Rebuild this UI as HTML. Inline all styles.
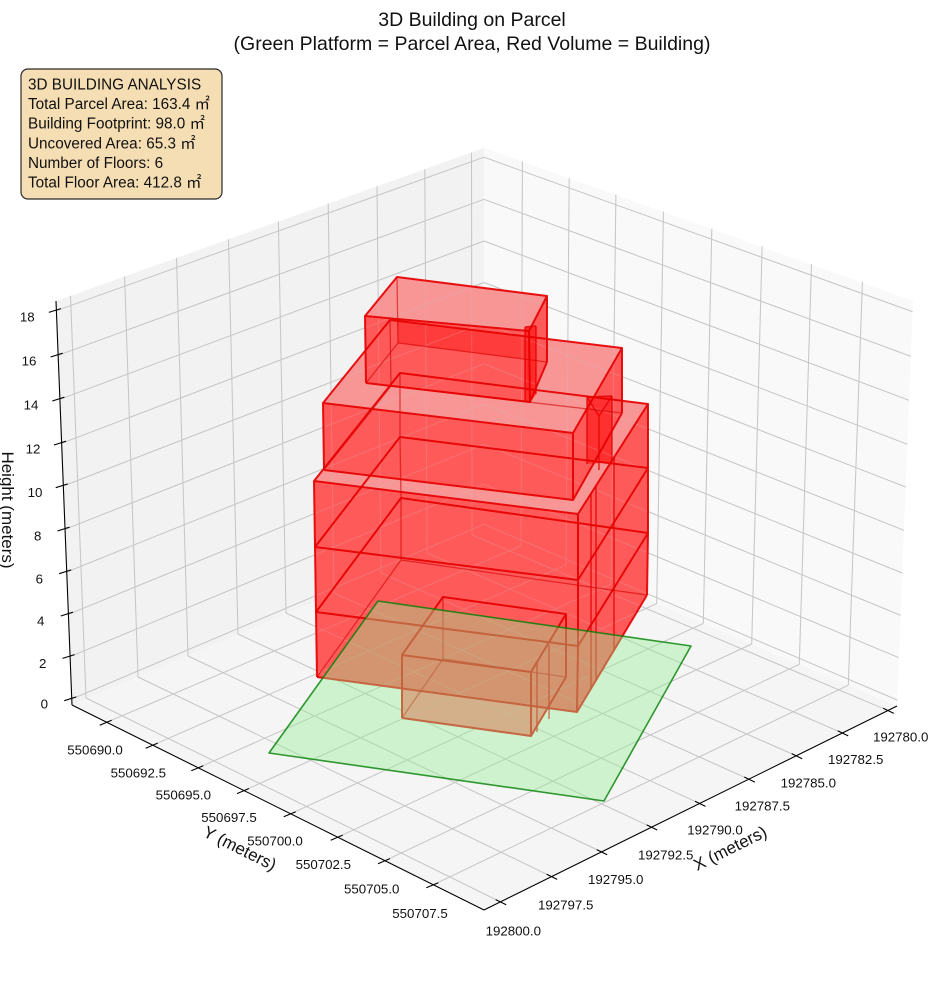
<!DOCTYPE html>
<html><head><meta charset="utf-8"><style>
html,body{margin:0;padding:0;background:#fff;}
svg{display:block;}
text{font-family:"Liberation Sans","Noto Sans CJK JP",sans-serif;fill:#111;}
</style></head><body>
<svg width="944" height="992" viewBox="0 0 944 992" xmlns="http://www.w3.org/2000/svg">
<rect width="944" height="992" fill="#fff"/>
<!-- panes -->
<polygon points="72,705 56,301 484,148 484,530" fill="#f2f2f2"/>
<polygon points="484,530 484,148 913,301 897,706" fill="#f9f9f9"/>
<polygon points="72,705 484,910 897,706 484,530" fill="#f5f5f5"/>
<!-- grid -->
<g id="grid" stroke="#c6c6c6" stroke-width="1" fill="none">
<path d="M500.7,902L86,698 M551.7,876.7L138,677 M601.7,852L188,656 M651.7,827.3L238,634 M700,803.7L286,613 M749.3,779.4L334,593 M796.7,756L381,573 M842.7,733.2L427,553 M888.3,710.7L472,535"/>
<path d="M106.7,722.3L521,545.8 M152.7,745.2L566,564.9 M198.3,767.8L611,584.1 M244,790.6L656.7,603.6 M290.7,813.8L703.3,623.4 M337.7,837.2L751.7,644 M385,860.7L799.3,664.3 M433.3,884.8L848.3,685.2"/>
<path d="M86,698L70.5,295.8 M138,677L124.6,276.5 M188,656L176.5,258 M238,634L228.5,239.4 M286,613L278.4,221.6 M334,593L328.2,203.8 M381,573L377,186.4 M427,553L424.8,169.3 M472,535L471.5,152.7"/>
<path d="M521,545.8L522.4,161.6 M566,564.9L569.2,178.2 M611,584.1L615.9,194.7 M656.7,603.6L663.4,211.5 M703.3,623.4L711.8,228.6 M751.7,644L762.1,246.4 M799.3,664.3L811.5,263.9 M848.3,685.2L862.4,281.9"/>
<path d="M71.8,699L484,524.3 M70.1,656.7L484,484.3 M68.4,614.3L484,444.2 M66.7,572L484,404.2 M65,529.3L484,363.9 M63.3,486L484,322.9 M61.6,443.3L484,282.5 M59.9,399.3L484,241 M58.2,355.3L484,199.3 M56.4,310.7L484,157.2"/>
<path d="M484,524.3L897.2,700 M484,484.3L898.9,657.7 M484,444.2L900.6,615.3 M484,404.2L902.3,573 M484,363.9L904,530.3 M484,322.9L905.7,487 M484,282.5L907.4,444.3 M484,241L909.1,400.3 M484,199.3L910.8,356.3 M484,157.2L912.6,311.7"/>
</g>

<!-- building faces (painter order, bottom to top) -->
<g stroke="none">
<!-- G ground -->
<polygon points="402,655 531,672 531,736 402,718" fill="#ff8585"/>
<polygon points="531,672 566,614 566,677 531,736" fill="#ff8585"/>
<polygon points="402,655 443,597 566,614 531,672" fill="#f89696"/>
<!-- M2 -->
<polygon points="316,612 578,646 577,712 317,677" fill="#ff5a5a"/>
<polygon points="578,646 648,533 647,595 577,712" fill="#ff5a5a"/>
<!-- M3 -->
<polygon points="315,547 578,580 578,646 316,612" fill="#ff5a5a"/>
<polygon points="578,580 648,468 648,533 578,646" fill="#ff5a5a"/>
<!-- M4 -->
<polygon points="314,481 578,514 578,580 315,547" fill="#ff5a5a"/>
<polygon points="578,514 648,404 648,468 578,580" fill="#ff5a5a"/>
<polygon points="314,481 400,373 648,404 578,514" fill="#f89696"/>
<!-- F5 -->
<polygon points="323,403 573,433 573,500 324,470" fill="#ff5a5a"/>
<polygon points="573,433 622,348 622,413 573,500" fill="#ff5a5a"/>
<polygon points="323,403 390,320 622,348 573,433" fill="#f89696"/>
<polygon points="400,372 530,389 530,403 400,387" fill="#ff5a5a"/>
<!-- F6 -->
<polygon points="365,316 529,331 530,402 366,383" fill="#ff5a5a"/>
<polygon points="529,331 547,296 547,362 530,402" fill="#ff5a5a"/>
<polygon points="365,316 397,277 547,296 529,331" fill="#f89696"/>
<polygon points="397,321 529,337 529,360 398,343" fill="#ff3c3c"/>
<!-- slivers -->
<polygon points="525,327 536,326 536,394 530,403 525,402" fill="#ff2a2a"/>
<polygon points="587,397 612,396 612,462 587,464" fill="#ff3030"/>
</g>

<!-- faint grid seen through -->
<use href="#grid" opacity="0.22"/>

<!-- hidden edges -->
<g stroke="#d40000" stroke-width="1.3" stroke-opacity="0.6" fill="none">
<path d="M443,597L443,659 M402,718L443,659 L566,677"/>
<path d="M401,498L401,560 M317,677L401,560 L647,595"/>
<path d="M400,437L401,498 M400,373L400,437"/>
<path d="M390,320L391,386 M324,470L391,386 L622,413"/>
<path d="M397,277L398,343 M366,383L398,343 L547,362"/>
</g>
<!-- visible edges -->
<g stroke="#e60000" stroke-width="2" stroke-opacity="0.92" fill="none" stroke-linejoin="round">
<path d="M402,655L443,597L566,614L531,672Z M402,655L402,718 M566,614L566,677 M531,672L531,736 M402,718L531,736 L566,677"/>
<path d="M316,612L401,498L648,533L578,646Z M316,612L317,677 M648,533L647,595 M578,646L577,712 M317,677L577,712L647,595"/>
<path d="M315,547L400,437L648,468L578,580Z M315,547L316,612 M648,468L648,533 M578,580L578,646"/>
<path d="M314,481L400,373L648,404L578,514Z M314,481L315,547 M648,404L648,468 M578,514L578,580"/>
<path d="M323,403L390,320L622,348L573,433Z M323,403L324,470 M622,348L622,413 M573,433L573,500 M324,470L573,500L622,413"/>
<path d="M365,316L397,277L547,296L529,331Z M365,316L366,383 M547,296L547,362 M529,331L530,402 M366,383L530,402L547,362"/>
</g>
<g stroke="#e60000" stroke-width="1.4" stroke-opacity="0.85" fill="none">
<path d="M525,327L536,326 M525,327L525,402 M536,326L536,394"/>
<path d="M587,397L612,396 M587,397L599,416L612,396 M587,397L587,464 M599,416L599,470 M612,396L612,462"/>
<path d="M591,493L591,689 M596,486L596,680 M614,457L614,650"/>
<path d="M537,662L537,732 M549,645L549,719"/>
</g>

<!-- parcel -->
<polygon points="269,753 378,601 691,646 604,801" fill="rgb(144,238,144)" fill-opacity="0.4" stroke="#008000" stroke-opacity="0.8" stroke-width="1.6" stroke-linejoin="round"/>

<!-- axis lines -->
<g stroke="#000" stroke-width="1.1" fill="none">
<path d="M72,705L56,301"/>
<path d="M72,705L484,910"/>
<path d="M484,910L897,706"/>
<!-- z ticks -->
<path d="M64.2,700.7L76.3,696.9 M62.5,658.4L74.6,654.6 M60.8,616L72.9,612.2 M59.1,573.7L71.2,569.9 M57.4,531L69.5,527.2 M55.7,487.7L67.8,483.9 M54,445L66.1,441.2 M52.3,401L64.4,397.2 M50.6,357L62.7,353.2 M48.8,312.4L60.9,308.6"/>
<!-- y ticks -->
<path d="M99.7,725.3L111.7,720.2 M145.7,748.2L157.7,743.1 M191.3,770.8L203.3,765.7 M237,793.6L249,788.5 M283.7,816.8L295.7,811.7 M330.7,840.2L342.7,835.1 M378,863.7L390,858.6 M426.3,887.8L438.3,882.7"/>
<!-- x ticks -->
<path d="M495.7,899.6L506.2,904.7 M546.7,874.3L557.2,879.4 M596.7,849.6L607.2,854.7 M646.7,824.9L657.2,830 M695,801.3L705.5,806.4 M744.3,777L754.8,782.1 M791.7,753.6L802.2,758.7 M837.7,730.8L848.2,735.9 M883.3,708.3L893.8,713.4"/>
</g>

<!-- tick labels -->
<g font-size="13.3" text-anchor="middle">
<text x="27.3" y="321.3">18</text>
<text x="29" y="365.3">16</text>
<text x="31" y="409.6">14</text>
<text x="33" y="453.6">12</text>
<text x="35" y="496.9">10</text>
<text x="37.7" y="540.6">8</text>
<text x="39.3" y="583.6">6</text>
<text x="40.7" y="625.6">4</text>
<text x="42.7" y="667.9">2</text>
<text x="44.3" y="708.6">0</text>

<text x="95" y="754.6">550690.0</text>
<text x="138.3" y="777.3">550692.5</text>
<text x="183.3" y="799.6">550695.0</text>
<text x="229" y="821.9">550697.5</text>
<text x="275" y="845.6">550700.0</text>
<text x="323.3" y="868.9">550702.5</text>
<text x="371.7" y="893.6">550705.0</text>
<text x="420" y="917.9">550707.5</text>

<text x="900.7" y="741.3">192780.0</text>
<text x="855.7" y="763.9">192782.5</text>
<text x="808.3" y="787.3">192785.0</text>
<text x="762.3" y="810.3">192787.5</text>
<text x="715" y="834.6">192790.0</text>
<text x="665.7" y="859.6">192792.5</text>
<text x="615.7" y="883.9">192795.0</text>
<text x="565.7" y="909.6">192797.5</text>
<text x="513.3" y="935.3">192800.0</text>
</g>

<!-- axis labels -->
<g font-size="17" text-anchor="middle">
<text transform="translate(730,848) rotate(-26.5)" x="0" y="6">X (meters)</text>
<text transform="translate(240,848) rotate(26.5)" x="0" y="6">Y (meters)</text>
<text transform="translate(2,510) rotate(90)" x="0" y="0">Height (meters)</text>
</g>

<!-- title -->
<g font-size="19.5" text-anchor="middle">
<text x="472" y="26">3D Building on Parcel</text>
<text x="472" y="50">(Green Platform = Parcel Area, Red Volume = Building)</text>
</g>

<!-- info box -->
<rect x="21" y="69" width="201" height="130" rx="7" ry="7" fill="#f5deb3" stroke="#2a2a2a" stroke-width="1.2"/>
<g font-size="15.3">
<text x="28" y="89.5">3D BUILDING ANALYSIS</text>
<text x="28" y="109">Total Parcel Area: 163.4 ㎡</text>
<text x="28" y="128.7">Building Footprint: 98.0 ㎡</text>
<text x="28" y="148.3">Uncovered Area: 65.3 ㎡</text>
<text x="28" y="168">Number of Floors: 6</text>
<text x="28" y="187.5">Total Floor Area: 412.8 ㎡</text>
</g>
</svg>
</body></html>
